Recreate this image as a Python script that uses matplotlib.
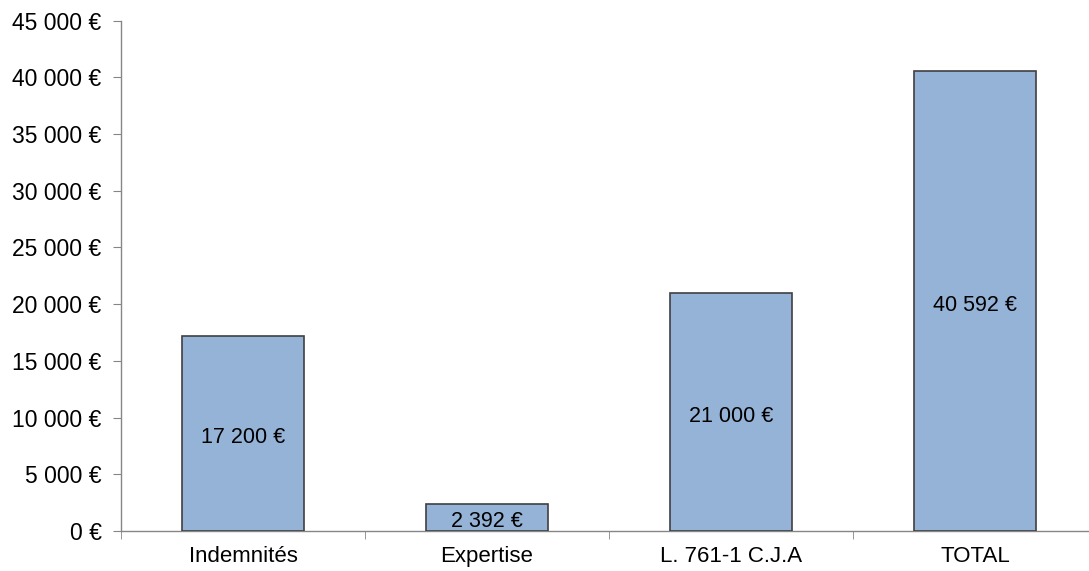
import matplotlib
matplotlib.use("Agg")
import matplotlib.pyplot as plt
import matplotlib.transforms as mtransforms
from matplotlib.ticker import FuncFormatter, FixedLocator

categories = ["Indemnités", "Expertise", "L. 761-1 C.J.A", "TOTAL"]
values = [17200, 2392, 21000, 40592]
y_ticks = [0, 5000, 10000, 15000, 20000, 25000, 30000, 35000, 40000, 45000]

plt.rcParams["font.family"] = ["Liberation Sans", "DejaVu Sans"]


def euro(v, _pos=None):
    s = f"{int(round(v)):,}".replace(",", " ")
    return f"{s} €"


fig = plt.figure(figsize=(10.89, 5.71), dpi=100)
W, H = 1089, 571
left, right, top, bottom = 121, 1097, 20.7, 531
ax = fig.add_axes([left / W, (H - bottom) / H, (right - left) / W, (bottom - top) / H])

xs = list(range(len(categories)))
ax.bar(xs, values, width=0.5, color="#95B3D7", edgecolor="#404040", linewidth=1.2, zorder=3)
# labels sit a few pixels below the bar middle, as in the source chart
shift = mtransforms.offset_copy(ax.transData, fig=fig, x=0, y=-3, units="points")
for x, v in zip(xs, values):
    ax.text(x, v / 2, euro(v), ha="center", va="center", fontsize=15.5,
            color="black", zorder=4, transform=shift)

ax.set_xlim(-0.5, len(categories) - 0.5)
ax.set_ylim(0, 45000)
ax.set_yticks(y_ticks)
ax.yaxis.set_major_formatter(FuncFormatter(euro))
ax.set_xticks(xs)
ax.set_xticklabels(categories)
ax.xaxis.set_minor_locator(FixedLocator([i - 0.5 for i in range(len(categories) + 1)]))

for s in ("top", "right"):
    ax.spines[s].set_visible(False)
for s in ("left", "bottom"):
    ax.spines[s].set_color("#868686")
    ax.spines[s].set_linewidth(1.0)

ax.tick_params(axis="y", direction="out", length=6, color="#868686", labelsize=16.5, pad=8)
ax.tick_params(axis="x", which="major", length=0, labelsize=16, pad=11)
ax.tick_params(axis="x", which="minor", direction="out", length=6, color="#868686")

fig.savefig("out.png", dpi=100)
